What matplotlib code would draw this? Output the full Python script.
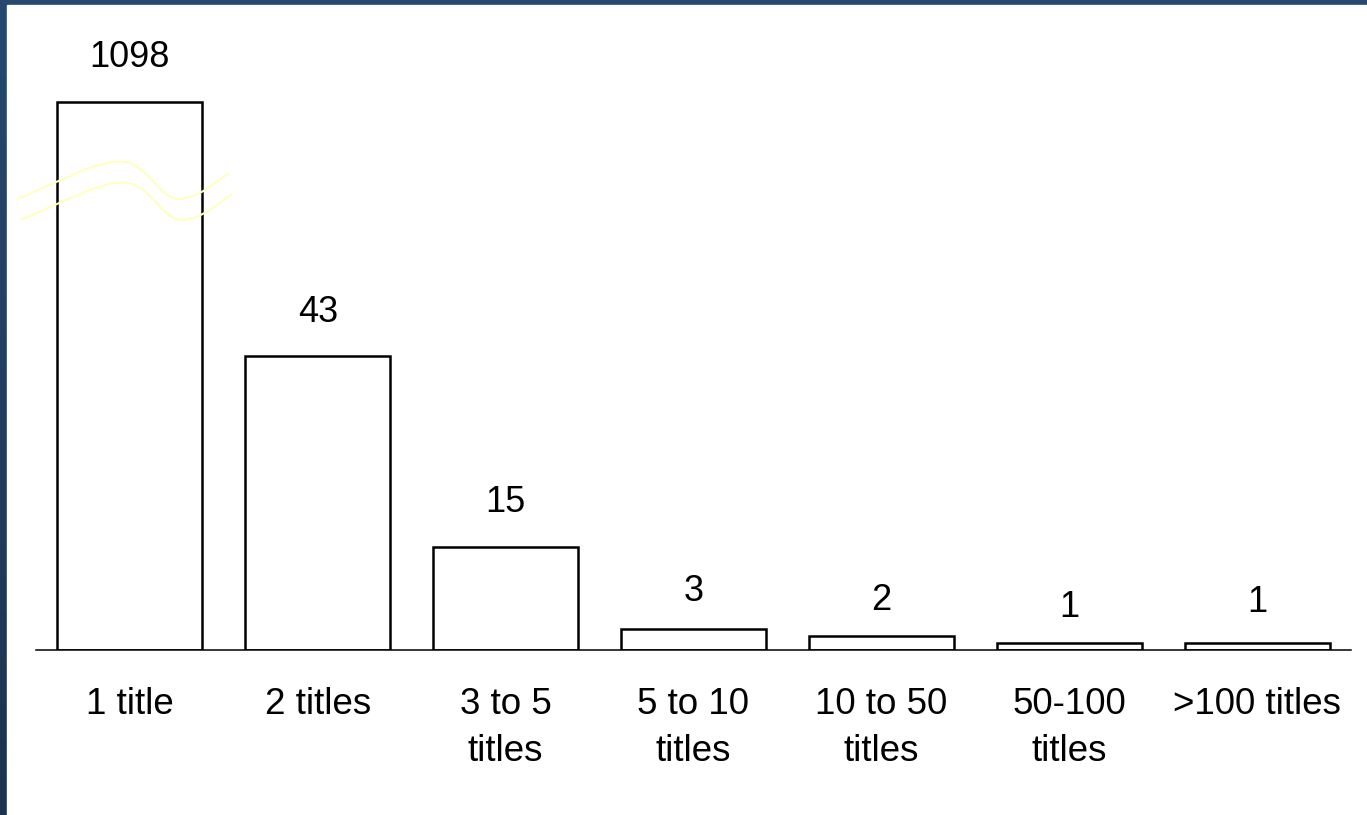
import numpy as np
import matplotlib
matplotlib.use("Agg")
import matplotlib.pyplot as plt
from matplotlib.path import Path
from matplotlib.patches import PathPatch, Rectangle
from matplotlib.colors import LinearSegmentedColormap

plt.rcParams["font.family"] = ["Liberation Sans", "DejaVu Sans"]

categories = ["1 title", "2 titles", "3 to 5\ntitles", "5 to 10\ntitles",
              "10 to 50\ntitles", "50-100\ntitles", ">100 titles"]
counts = [1098, 43, 15, 3, 2, 1, 1]

# gap between bar top and label baseline (points)
label_offsets = [24.7, 24.5, 25.2, 20.2, 18.7, 18.7, 22.3]

# broken y axis: linear up to BREAK, compressed above it
BREAK = 50
SQUEEZE = 0.0288

def fwd(v):
    v = np.asarray(v, dtype=float)
    return np.where(v <= BREAK, v, BREAK + (v - BREAK) * SQUEEZE)

def inv(u):
    u = np.asarray(u, dtype=float)
    return np.where(u <= BREAK, u, BREAK + (u - BREAK) / SQUEEZE)

W, H = 1367, 815
fig = plt.figure(figsize=(W / 100, H / 100), dpi=100)

# blue frame on left and top
bg = fig.add_axes([0, 0, 1, 1], zorder=-10)
frame_cmap = LinearSegmentedColormap.from_list("frame", ["#1b3350", "#27496f"])
bg.imshow(np.linspace(0, 1, 256).reshape(-1, 1)[::-1], cmap=frame_cmap,
          aspect="auto", extent=[0, 1, 0, 1], origin="upper")
bg.add_patch(Rectangle((7 / W, 0), 1, 1 - 5 / H, color="white", transform=bg.transAxes))
bg.set_xlim(0, 1)
bg.set_ylim(0, 1)
bg.axis("off")

ax = fig.add_axes([36 / W, 165 / H, 1315 / W, 650 / H])
ax.set_facecolor("none")
ax.set_yscale("function", functions=(fwd, inv))

x = np.arange(len(categories))
bars = ax.bar(x, counts, width=0.772, color="white", edgecolor="black", linewidth=1.8, zorder=2)

for xi, c, off in zip(x, counts, label_offsets):
    ax.annotate(str(c), (xi, c), xytext=(0, off), textcoords="offset points",
                ha="center", va="baseline", fontsize=26)

ax.set_xlim(-0.5, len(categories) - 0.5)
ax.set_ylim(0, float(inv(650 / 6.837)))
ax.set_xticks(x)
ax.set_xticklabels(categories, fontsize=26.5, linespacing=1.42)
ax.tick_params(axis="x", length=0, pad=27)
ax.set_yticks([])
ax.yaxis.set_minor_locator(matplotlib.ticker.NullLocator())
for side in ["left", "right", "top"]:
    ax.spines[side].set_visible(False)
ax.spines["bottom"].set_linewidth(1.1)
ax.spines["bottom"].set_zorder(3)

# break mark across the tall bar
trans = matplotlib.transforms.blended_transform_factory(ax.transData, ax.transAxes)
def px_x(p):
    return (p - 36) / (1315 / 7) - 0.5
def px_y(p):
    return (650 - p) / 650

wave = [(17, 199), (60, 182), (100, 158), (125, 162),
        (148, 165), (160, 200), (180, 199),
        (198, 198), (215, 183), (229, 173)]
codes = [Path.MOVETO] + [Path.CURVE4] * 9
for dx, dy in [(0, 0), (3, 21)]:
    verts = [(px_x(a + dx), px_y(b + dy)) for a, b in wave]
    ax.add_patch(PathPatch(Path(verts, codes), fill=False, edgecolor="#ffffc0",
                           linewidth=1.5, transform=trans, zorder=4, clip_on=False))

fig.savefig("out.png", dpi=100)
